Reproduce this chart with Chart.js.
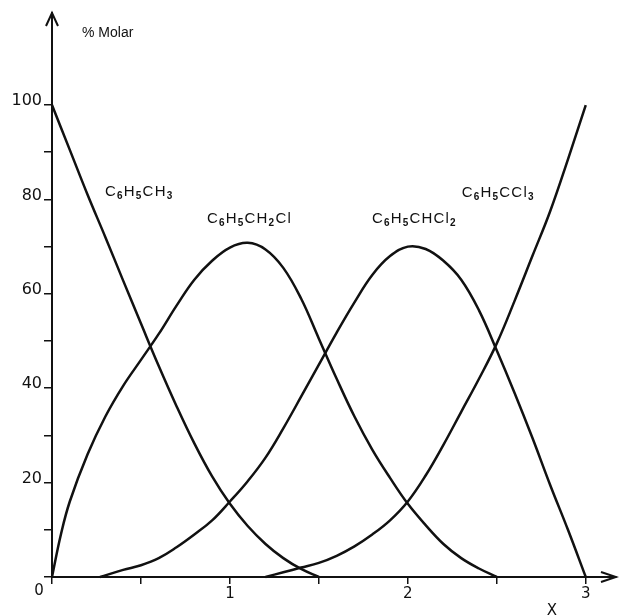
<!DOCTYPE html>
<html>
<head>
<meta charset="utf-8">
<script src="https://cdn.jsdelivr.net/npm/chart.js@4.4.0/dist/chart.umd.min.js"></script>
<style>
  html, body { margin: 0; padding: 0; background: #fff; }
  canvas { display: block; }
</style>
</head>
<body>
<canvas id="chart" width="619" height="615"></canvas>
<script>
// valeurs : x = rapport Cl2 / toluène, y = % molaire
const xToluene = [0, 0.1, 0.2, 0.3, 0.4, 0.5, 0.6, 0.7, 0.8, 0.9, 1.0, 1.1, 1.2, 1.3, 1.4, 1.5];
const yToluene = [100, 90.5, 81, 72, 62.8, 53.7, 44.7, 36.2, 28.3, 21.3, 15.5, 10.8, 7, 4, 1.7, 0];

const xBenzyl = [0, 0.05, 0.1, 0.2, 0.3, 0.4, 0.5, 0.6, 0.7, 0.8, 0.9, 1.0, 1.1, 1.2, 1.3, 1.4, 1.5, 1.6, 1.7, 1.8, 1.9, 2.0, 2.1, 2.2, 2.3, 2.4, 2.5];
const yBenzyl = [0, 9, 16, 26, 34, 40.5, 46, 51.5, 57.5, 63, 67, 69.8, 70.8, 69.4, 65.5, 59, 50.5, 42, 34, 27, 21, 15.5, 11, 7, 4, 1.8, 0];

const xBenzal = [0.27, 0.4, 0.5, 0.6, 0.7, 0.8, 0.9, 1.0, 1.1, 1.2, 1.3, 1.4, 1.5, 1.6, 1.7, 1.8, 1.9, 2.0, 2.1, 2.2, 2.3, 2.4, 2.5, 2.6, 2.7, 2.8, 2.9, 3.0];
const yBenzal = [0, 1.5, 2.5, 4, 6.3, 9, 12, 16, 20.3, 25.3, 31.5, 38.2, 45, 51.8, 58.2, 64, 68, 70, 69.5, 67, 63, 56.5, 48, 39, 29.5, 19.5, 10, 0];

const xBenzotri = [1.2, 1.3, 1.4, 1.5, 1.6, 1.7, 1.8, 1.9, 2.0, 2.1, 2.2, 2.3, 2.4, 2.5, 2.6, 2.7, 2.8, 2.9, 3.0];
const yBenzotri = [0, 1, 2, 3, 4.5, 6.5, 9, 12, 16, 21.5, 28, 35, 42, 49.5, 58.5, 68, 77.5, 88.5, 100];

const seriesNames = ['C6H5CH3', 'C6H5CH2Cl', 'C6H5CHCl2', 'C6H5CCl3'];
const yTicks = [0, 10, 20, 30, 40, 50, 60, 70, 80, 90, 100];
const xTicks = [0, 0.5, 1, 1.5, 2, 2.5, 3];

// position des étiquettes des courbes (coin gauche, en unités du graphique)
const nameAnchors = [[0.298, 81.6], [0.871, 75.8], [1.798, 75.8], [2.303, 81.4]];

const INK = '#111';

function toPoints(xs, ys) {
  return xs.map((x, i) => ({ x: x, y: ys[i] }));
}

function drawFormula(ctx, str, x, y) {
  let cx = x;
  for (const ch of str) {
    const sub = /[0-9]/.test(ch);
    ctx.font = sub ? 'bold 10px "Liberation Sans"' : '15px "Liberation Sans"';
    ctx.fillText(ch, cx, sub ? y + 4 : y);
    cx += ctx.measureText(ch).width + 1.2;
  }
}

function arrow(ctx, tipX, tipY, ax, ay, bx, by) {
  ctx.beginPath();
  ctx.moveTo(ax, ay);
  ctx.lineTo(tipX, tipY);
  ctx.lineTo(bx, by);
  ctx.stroke();
}

const decorations = {
  id: 'decorations',
  afterDatasetsDraw(chart) {
    const { ctx, scales } = chart;
    const xs = scales.x, ys = scales.y;
    const x0 = xs.getPixelForValue(0), y0 = ys.getPixelForValue(0);
    ctx.save();
    ctx.strokeStyle = INK;
    ctx.lineWidth = 2;
    arrow(ctx, x0, ys.top, x0 - 6, ys.top + 13, x0 + 6, ys.top + 13);
    arrow(ctx, xs.right, y0, xs.right - 15, y0 - 5, xs.right - 15, y0 + 5);

    ctx.fillStyle = INK;
    ctx.textBaseline = 'middle';
    seriesNames.forEach((name, i) => {
      const [vx, vy] = nameAnchors[i];
      drawFormula(ctx, name, xs.getPixelForValue(vx), ys.getPixelForValue(vy));
    });

    ctx.font = '14px "Liberation Sans"';
    ctx.textAlign = 'left';
    ctx.fillText('% Molar', x0 + 30, ys.getPixelForValue(115.3));
    ctx.textAlign = 'center';
    ctx.font = '15px "DejaVu Sans"';
    ctx.fillText('0', x0 - 13, y0 + 14);
    ctx.fillText('X', xs.getPixelForValue(2.81), y0 + 34);
    ctx.restore();
  }
};

const datasets = [
  toPoints(xToluene, yToluene),
  toPoints(xBenzyl, yBenzyl),
  toPoints(xBenzal, yBenzal),
  toPoints(xBenzotri, yBenzotri),
].map((pts, i) => ({
  label: seriesNames[i],
  data: pts,
  showLine: true,
  borderColor: INK,
  borderWidth: 2.5,
  pointRadius: 0,
  tension: 0.4,
  clip: 3,
}));

new Chart(document.getElementById('chart'), {
  type: 'scatter',
  data: { datasets },
  plugins: [decorations],
  options: {
    responsive: false,
    animation: false,
    events: [],
    layout: { padding: { top: 13, right: 3, left: 0, bottom: 0 } },
    plugins: { legend: { display: false }, tooltip: { enabled: false } },
    scales: {
      x: {
        type: 'linear',
        min: 0,
        max: 3.17,
        afterBuildTicks: s => { s.ticks = xTicks.map(v => ({ value: v })); },
        afterFit: s => { s.height = 38; },
        border: { display: true, color: INK, width: 2 },
        grid: { drawOnChartArea: false, drawTicks: true, tickLength: 7, color: INK, lineWidth: 1.5 },
        ticks: {
          color: INK,
          padding: 1,
          maxRotation: 0,
          autoSkip: false,
          font: { family: 'DejaVu Sans', size: 15 },
          callback: v => (Number.isInteger(v) && v > 0 ? String(v) : ''),
        },
      },
      y: {
        type: 'linear',
        min: 0,
        max: 119.5,
        afterBuildTicks: s => { s.ticks = yTicks.map(v => ({ value: v })); },
        afterFit: s => { s.width = 52; },
        border: { display: true, color: INK, width: 2 },
        grid: { drawOnChartArea: false, drawTicks: true, tickLength: 8, color: INK, lineWidth: 1.5 },
        ticks: {
          color: INK,
          padding: 2,
          labelOffset: -4,
          autoSkip: false,
          font: { family: 'DejaVu Sans', size: 16 },
          callback: v => (v > 0 && v % 20 === 0 ? String(v) : ''),
        },
      },
    },
  },
});
</script>
</body>
</html>
